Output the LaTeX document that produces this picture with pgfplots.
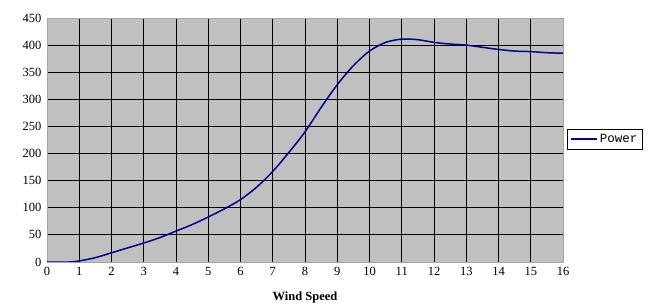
\documentclass[border=0pt]{standalone}
\usepackage{pgfplots}
\pgfplotsset{compat=1.18}
\usepackage{fontspec}
\setmainfont{Liberation Serif}
\setmonofont{Liberation Mono}
\definecolor{plotbg}{RGB}{192,192,192}
\definecolor{navyline}{RGB}{0,0,140}
\begin{document}
\begin{tikzpicture}[x=1pt,y=1pt]
\useasboundingbox (-47pt,-43pt) rectangle (604pt,262pt);
\begin{axis}[
  at={(0,0)}, anchor=south west,
  scale only axis, width=516pt, height=244pt,
  xmin=0, xmax=16, ymin=0, ymax=450,
  xtick={0,1,...,16}, ytick={0,50,...,450},
  grid=major, major grid style={black, line width=0.8pt},
  major tick length=0pt,
  axis background/.style={fill=plotbg},
  axis line style={draw=gray!70},
  tick label style={font=\fontsize{12.5}{14}\selectfont},
  /pgf/number format/assume math mode=true,
  xticklabel style={yshift=-2pt},
  yticklabel style={xshift=-2pt},
  xlabel={\textbf{Wind Speed}},
  xlabel style={font=\fontsize{12.5}{14}\selectfont, yshift=-9pt},
  legend style={at={(1.008,0.504)}, anchor=west, draw=black, fill=white,
    font=\ttfamily\fontsize{12.5}{15}\selectfont, inner xsep=3pt, inner ysep=3pt,
    /tikz/every even column/.append style={column sep=0pt}},
  legend cell align=left,
  legend image code/.code={\draw[#1, line width=1.5pt] (0pt,0pt) -- (26pt,0pt);},
]
\addplot[navyline, line width=1.5pt, smooth, tension=0.5] coordinates {
(0,0) (0.7,0) (1,2) (1.5,8) (2,17) (2.5,26) (3,35) (3.5,45) (4,57) (4.5,69)
(5,83) (5.5,98) (6,115) (6.5,138) (7,167) (7.5,202) (8,240) (8.5,285)
(9,327) (9.5,362) (10,389) (10.5,405) (11,411) (11.5,410) (12,405)
(12.5,402) (13,400) (13.5,396) (14,392) (14.5,389) (15,388) (15.5,386) (16,385)
};
\addlegendentry{Power}
\end{axis}
\end{tikzpicture}
\end{document}
